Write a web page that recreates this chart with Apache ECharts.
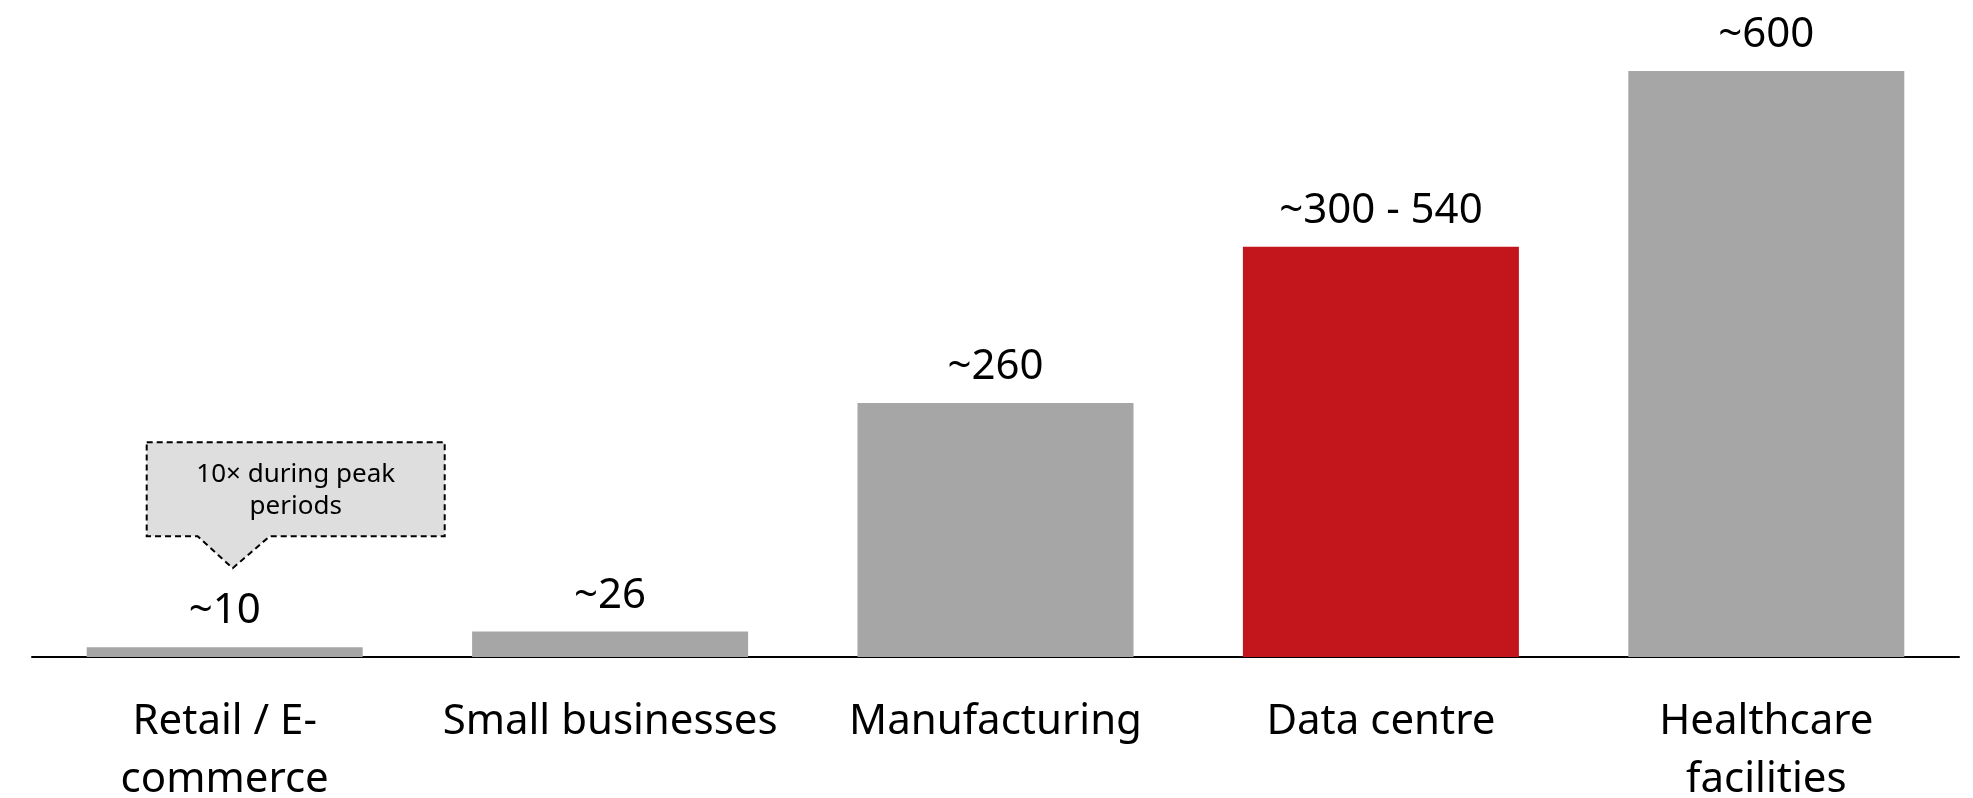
<!DOCTYPE html>
<html>
<head>
<meta charset="utf-8">
<script src="https://cdn.jsdelivr.net/npm/echarts@6/dist/echarts.min.js"></script>
<style>
html,body{margin:0;padding:0;background:#fff;}
#chart{width:1973px;height:798px;}
</style>
</head>
<body>
<div id="chart"></div>
<script>
var categories = ['Retail / E-\ncommerce', 'Small businesses', 'Manufacturing', 'Data centre', 'Healthcare\nfacilities'];
var values = [10, 26, 260, 420, 600];
var valueLabels = ['~10', '~26', '~260', '~300 - 540', '~600'];
var barColors = ['#a6a6a6', '#a6a6a6', '#a6a6a6', '#c3161c', '#a6a6a6'];
var calloutText = '10\u00d7 during peak\nperiods';
var calloutIndex = 0;

var FONT = '"Noto Sans", "Open Sans", sans-serif';
var chart = echarts.init(document.getElementById('chart'));

var option = {
  animation: false,
  backgroundColor: '#ffffff',
  grid: { left: 32, right: 14, top: 71, bottom: 141, containLabel: false, outerBoundsMode: 'none' },
  xAxis: {
    type: 'category',
    data: categories,
    axisLine: { lineStyle: { color: '#000', width: 2 } },
    axisTick: { show: false },
    axisLabel: {
      interval: 0,
      color: '#000',
      fontFamily: FONT,
      fontSize: 42,
      lineHeight: 58,
      margin: 36
    }
  },
  yAxis: { type: 'value', min: 0, max: 600, show: false, splitLine: { show: false } },
  series: [{
    type: 'bar',
    barWidth: 276,
    data: values.map(function (v, i) {
      return { value: v, itemStyle: { color: barColors[i] } };
    }),
    label: {
      show: true,
      position: 'top',
      distance: 15,
      color: '#000',
      fontFamily: FONT,
      fontSize: 42,
      formatter: function (p) { return valueLabels[p.dataIndex]; }
    }
  }]
};
chart.setOption(option);

// Callout anchored to the bar's data position
var p = chart.convertToPixel({ seriesIndex: 0 }, [calloutIndex, values[calloutIndex]]);
var tipX = p[0] + 8, tipY = p[1] - 79;
var boxL = tipX - 86, boxR = tipX + 212, boxB = tipY - 32, boxT = boxB - 94;
var pts = [
  [boxL, boxT], [boxR, boxT], [boxR, boxB], [tipX + 37, boxB],
  [tipX, tipY], [tipX - 35, boxB], [boxL, boxB]
];
chart.setOption({
  graphic: [
    {
      type: 'polygon',
      shape: { points: pts },
      style: { fill: '#dedede', stroke: '#000', lineWidth: 2, lineDash: [6, 4] },
      z: 10
    },
    {
      type: 'text',
      x: (boxL + boxR) / 2,
      y: (boxT + boxB) / 2 + 1,
      style: {
        text: calloutText,
        fill: '#000',
        font: '26px ' + FONT,
        lineHeight: 32,
        align: 'center',
        verticalAlign: 'middle'
      },
      z: 11
    }
  ]
});
</script>
</body>
</html>
